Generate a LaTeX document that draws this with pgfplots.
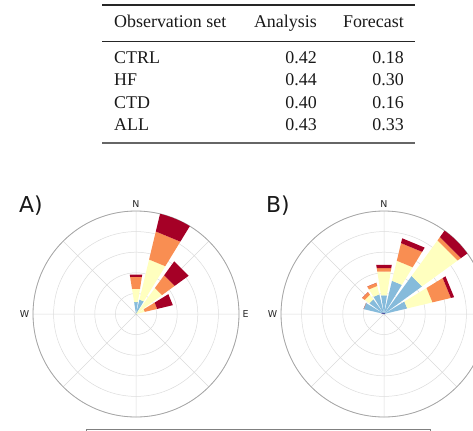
\documentclass[border=0pt]{standalone}
\usepackage{pgfplots}
\pgfplotsset{compat=1.18}
\usepgfplotslibrary{polar}
\usepackage{fontspec}
\setmainfont{Liberation Serif}
\newfontfamily\dejavu{DejaVu Sans}
\definecolor{cDB}{HTML}{313695}
\definecolor{cLB}{HTML}{86BBDB}
\definecolor{cYE}{HTML}{FFFFBF}
\definecolor{cOR}{HTML}{F98E52}
\definecolor{cRD}{HTML}{A50026}
% one stacked segment of a wind-rose bar: centre angle, inner r, outer r, colour
\newcommand\seg[4]{%
  \pgfmathsetmacro\aL{#1-9}\pgfmathsetmacro\aR{#1+9}%
  \edef\tmpseg{\noexpand\addplot[fill=#4,draw=none] coordinates {(\aL,#2) (\aR,#2) (\aR,#3) (\aL,#3)} -- cycle;}%
  \tmpseg}
% one bar: angle, cumulative bounds of the 5 speed classes
\newcommand\windbar[6]{%
  \seg{#1}{0}{#2}{cDB}\seg{#1}{#2}{#3}{cLB}\seg{#1}{#3}{#4}{cYE}%
  \seg{#1}{#4}{#5}{cOR}\seg{#1}{#5}{#6}{cRD}}
\pgfplotsset{rose/.style={
  anchor=center, scale only axis, width=206bp, height=206bp,
  xmin=0, xmax=360, ymin=0, ymax=25,
  xtick={0,45,...,315}, xticklabels={E,,N,,W,,,},
  ytick={5,10,15,20,25}, yticklabels={},
  grid=major, major grid style={draw=black!14, line width=0.5bp},
  axis line style={draw=black!35, line width=0.8bp},
  y axis line style={draw=none},
  tick style={draw=none},
  xticklabel style={font=\dejavu\fontsize{9.5}{10}\selectfont, text=black!85, inner sep=3.5bp},
}}
\begin{document}
\begin{tikzpicture}[x=1bp,y=1bp]
\useasboundingbox (0,0) rectangle (473,430);
\clip (0,0) rectangle (473,430);
% ---- table ----
\draw[line width=1.1bp, black!85] (102,425) -- (415,425);
\draw[line width=0.8bp, black!85] (102,389) -- (415,389);
\draw[line width=1.4bp, black!60] (102,287) -- (415,287);
\begin{scope}[every node/.style={inner sep=0pt, font=\fontsize{18}{22}\selectfont, text=black!90}]
\node[anchor=base west] at (114,402) {Observation set};
\node[anchor=base east] at (317,402) {Analysis};
\node[anchor=base east] at (404,402) {Forecast};
\node[anchor=base west] at (114,366.7) {CTRL};
\node[anchor=base east] at (317,366.7) {0.42};
\node[anchor=base east] at (404,366.7) {0.18};
\node[anchor=base west] at (114,344.2) {HF};
\node[anchor=base east] at (317,344.2) {0.44};
\node[anchor=base east] at (404,344.2) {0.30};
\node[anchor=base west] at (114,321.7) {CTD};
\node[anchor=base east] at (317,321.7) {0.40};
\node[anchor=base east] at (404,321.7) {0.16};
\node[anchor=base west] at (114,299.3) {ALL};
\node[anchor=base east] at (317,299.3) {0.43};
\node[anchor=base east] at (404,299.3) {0.33};
\end{scope}
% ---- panel A ----
\begin{polaraxis}[rose, at={(136bp,116bp)}]
\windbar{90}{0}{2.9}{6.2}{9.1}{9.7}
\windbar{67.5}{0}{3.6}{13.6}{20.6}{25.3}
\windbar{45}{0}{0}{7.8}{11.6}{15.8}
\windbar{22.5}{0}{0}{2.2}{5.3}{9.2}
\end{polaraxis}
% ---- panel B (its E label falls outside the picture) ----
\begin{polaraxis}[rose, at={(384bp,116bp)}, xticklabels={,,N,,W,,,}]
\windbar{157.5}{0.7}{5.1}{5.1}{5.1}{5.1}
\windbar{135}{0.5}{4.4}{5.8}{6.6}{6.6}
\windbar{112.5}{0.3}{4.9}{7.0}{7.8}{7.8}
\windbar{90}{0.3}{4.6}{10.4}{11.3}{12.1}
\windbar{67.5}{0.3}{8.3}{13.3}{17.7}{18.9}
\windbar{45}{0.3}{11.4}{22.1}{23.1}{25.7}
\windbar{22.5}{0.3}{5.8}{12.1}{16.7}{17.5}
\end{polaraxis}
\node[font=\dejavu\fontsize{22}{24}\selectfont, text=black!90, anchor=base west, inner sep=0pt] at (19,218) {A)};
\node[font=\dejavu\fontsize{22}{24}\selectfont, text=black!90, anchor=base west, inner sep=0pt] at (266,218) {B)};
% ---- box below ----
\draw[black!50, line width=0.8bp] (86,1) rectangle (430,-20);
\end{tikzpicture}
\end{document}
